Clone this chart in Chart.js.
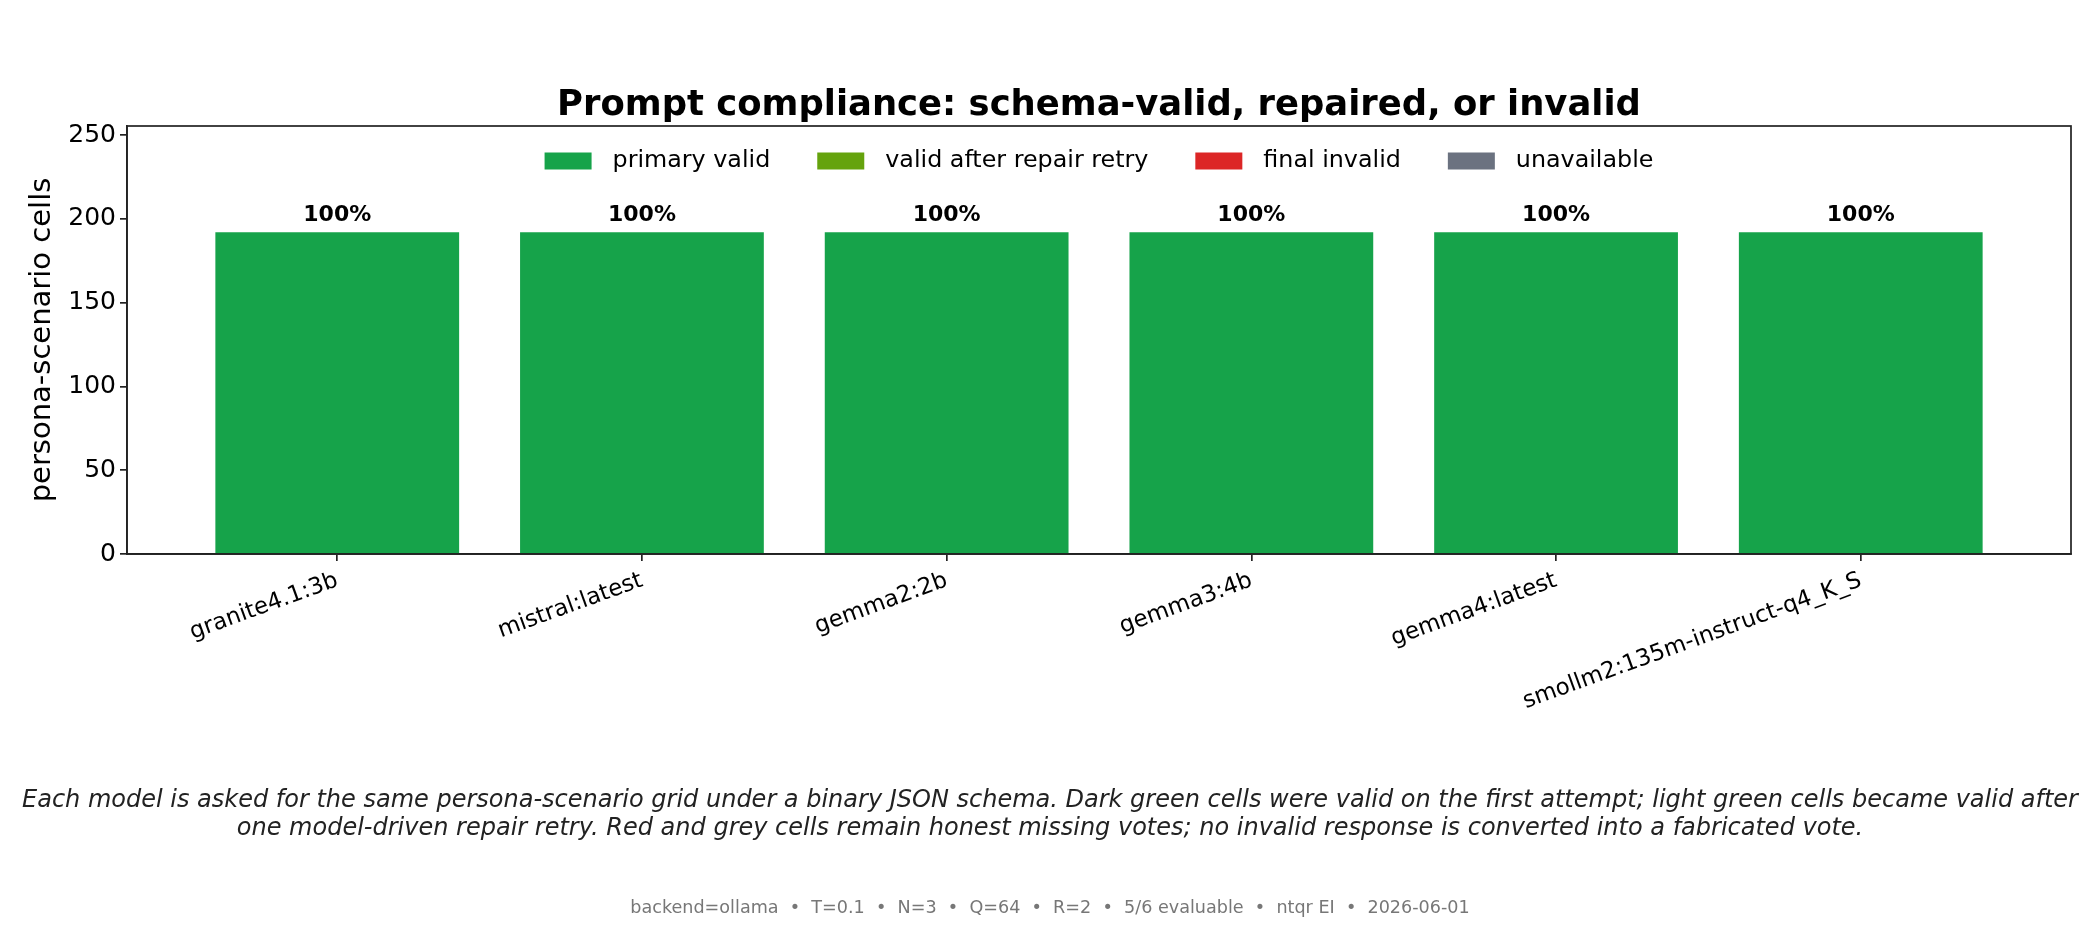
<!DOCTYPE html>
<html>
<head>
<meta charset="utf-8">
<script src="https://cdn.jsdelivr.net/npm/chart.js@4.4.1/dist/chart.umd.min.js"></script>
<style>
  html, body { margin: 0; padding: 0; background: #fff; }
  #wrap { width: 2100px; height: 930px; }
</style>
</head>
<body>
<div id="wrap"><canvas id="chart" width="2100" height="930"></canvas></div>
<script>
const models = ['granite4.1:3b', 'mistral:latest', 'gemma2:2b', 'gemma3:4b', 'gemma4:latest', 'smollm2:135m-instruct-q4_K_S']
const primaryValid = [192, 192, 192, 192, 192, 192]
const repairedValid = [0, 0, 0, 0, 0, 0]
const finalInvalid = [0, 0, 0, 0, 0, 0]
const unavailable = [0, 0, 0, 0, 0, 0]
const validPct = [100, 100, 100, 100, 100, 100]
const yTicks = [0, 50, 100, 150, 200, 250]
const yMax = 255.4

const chartTitle = 'Prompt compliance: schema-valid, repaired, or invalid'
const yTitle = 'persona-scenario cells'
const captionLines = [
  'Each model is asked for the same persona-scenario grid under a binary JSON schema. Dark green cells were valid on the first attempt; light green cells became valid after',
  'one model-driven repair retry. Red and grey cells remain honest missing votes; no invalid response is converted into a fabricated vote.'
]
const footer = 'backend=ollama  \u2022  T=0.1  \u2022  N=3  \u2022  Q=64  \u2022  R=2  \u2022  5/6 evaluable  \u2022  ntqr EI  \u2022  2026-06-01'

const FONT = '"DejaVu Sans", sans-serif'
const INK = '#222'

const toPoints = arr => arr.map((v, i) => ({ x: i, y: v }))

// top/right spines, title, legend and caption text
const decorations = {
  id: 'decorations',
  afterDatasetsDraw(chart) {
    const { ctx, scales: { x, y } } = chart
    ctx.save()
    ctx.fillStyle = '#000'
    ctx.font = `bold 22px ${FONT}`
    ctx.textAlign = 'center'
    ctx.textBaseline = 'middle'
    models.forEach((m, i) => {
      const total = primaryValid[i] + repairedValid[i] + finalInvalid[i] + unavailable[i]
      ctx.fillText(`${validPct[i]}%`, x.getPixelForValue(i), y.getPixelForValue(total) - 17)
    })
    ctx.restore()
  },
  afterDraw(chart) {
    const { ctx, chartArea: a } = chart
    const cx = (a.left + a.right) / 2
    ctx.save()

    ctx.strokeStyle = INK
    ctx.lineWidth = 1.7
    ctx.strokeRect(a.left, a.top, a.right - a.left, a.bottom - a.top)

    ctx.fillStyle = '#000'
    ctx.textAlign = 'center'
    ctx.textBaseline = 'middle'
    ctx.font = `bold 35.4px ${FONT}`
    ctx.fillText(chartTitle, cx, 106)

    // legend
    ctx.font = `23.8px ${FONT}`
    const items = chart.data.datasets.map(d => ({ label: d.label, color: d.backgroundColor }))
    const pw = 47, ph = 17, gap = 21, colGap = 47
    const widths = items.map(it => pw + gap + ctx.measureText(it.label).width)
    const total = widths.reduce((s, w) => s + w, 0) + colGap * (items.length - 1)
    let lx = cx - total / 2
    const ly = 161
    ctx.textAlign = 'left'
    items.forEach((it, i) => {
      ctx.fillStyle = it.color
      ctx.fillRect(lx, ly - ph / 2, pw, ph)
      ctx.fillStyle = '#000'
      ctx.fillText(it.label, lx + pw + gap, ly)
      lx += widths[i] + colGap
    })

    // caption
    ctx.textAlign = 'center'
    ctx.fillStyle = '#222'
    ctx.font = `italic 24px ${FONT}`
    captionLines.forEach((line, i) => ctx.fillText(line, 1050, 801 + i * 28))

    ctx.fillStyle = '#777'
    ctx.font = `17.6px ${FONT}`
    ctx.fillText(footer, 1050, 908)
    ctx.restore()
  }
}

const chart = new Chart(document.getElementById('chart'), {
  type: 'bar',
  data: {
    datasets: [
      { label: 'primary valid', data: toPoints(primaryValid), backgroundColor: '#16a34a' },
      { label: 'valid after repair retry', data: toPoints(repairedValid), backgroundColor: '#65a30d' },
      { label: 'final invalid', data: toPoints(finalInvalid), backgroundColor: '#dc2626' },
      { label: 'unavailable', data: toPoints(unavailable), backgroundColor: '#6b7280' }
    ]
  },
  options: {
    responsive: false,
    animation: false,
    devicePixelRatio: 1,
    layout: { padding: { top: 126, right: 29, left: 0, bottom: 0 } },
    datasets: { bar: { barPercentage: 0.8, categoryPercentage: 1.0, borderWidth: 0 } },
    plugins: { legend: { display: false }, title: { display: false }, tooltip: { enabled: false } },
    scales: {
      x: {
        type: 'linear',
        stacked: true,
        min: -0.69,
        max: 5.69,
        offset: false,
        afterBuildTicks: s => { s.ticks = models.map((_, i) => ({ value: i })) },
        afterFit: s => { s.height = 376 },
        ticks: {
          autoSkip: false,
          minRotation: 20,
          maxRotation: 20,
          padding: 6,
          color: '#000',
          font: { family: FONT, size: 23 },
          callback: v => models[v] ?? ''
        },
        grid: { offset: false, drawOnChartArea: false, drawTicks: true, tickLength: 7, tickColor: INK, lineWidth: 1.7 },
        border: { display: true, color: INK, width: 1.7 }
      },
      y: {
        stacked: true,
        min: 0,
        max: yMax,
        afterBuildTicks: s => { s.ticks = yTicks.map(v => ({ value: v })) },
        afterFit: s => { s.width = 127 },
        ticks: { padding: 4, color: '#000', font: { family: FONT, size: 25 } },
        title: {
          display: true,
          text: yTitle,
          color: '#000',
          font: { family: FONT, size: 29 },
          padding: { top: 25, bottom: 0 }
        },
        grid: { drawOnChartArea: false, drawTicks: true, tickLength: 7, tickColor: INK, lineWidth: 1.7 },
        border: { display: true, color: INK, width: 1.7 }
      }
    }
  },
  plugins: [decorations]
})
</script>
</body>
</html>
